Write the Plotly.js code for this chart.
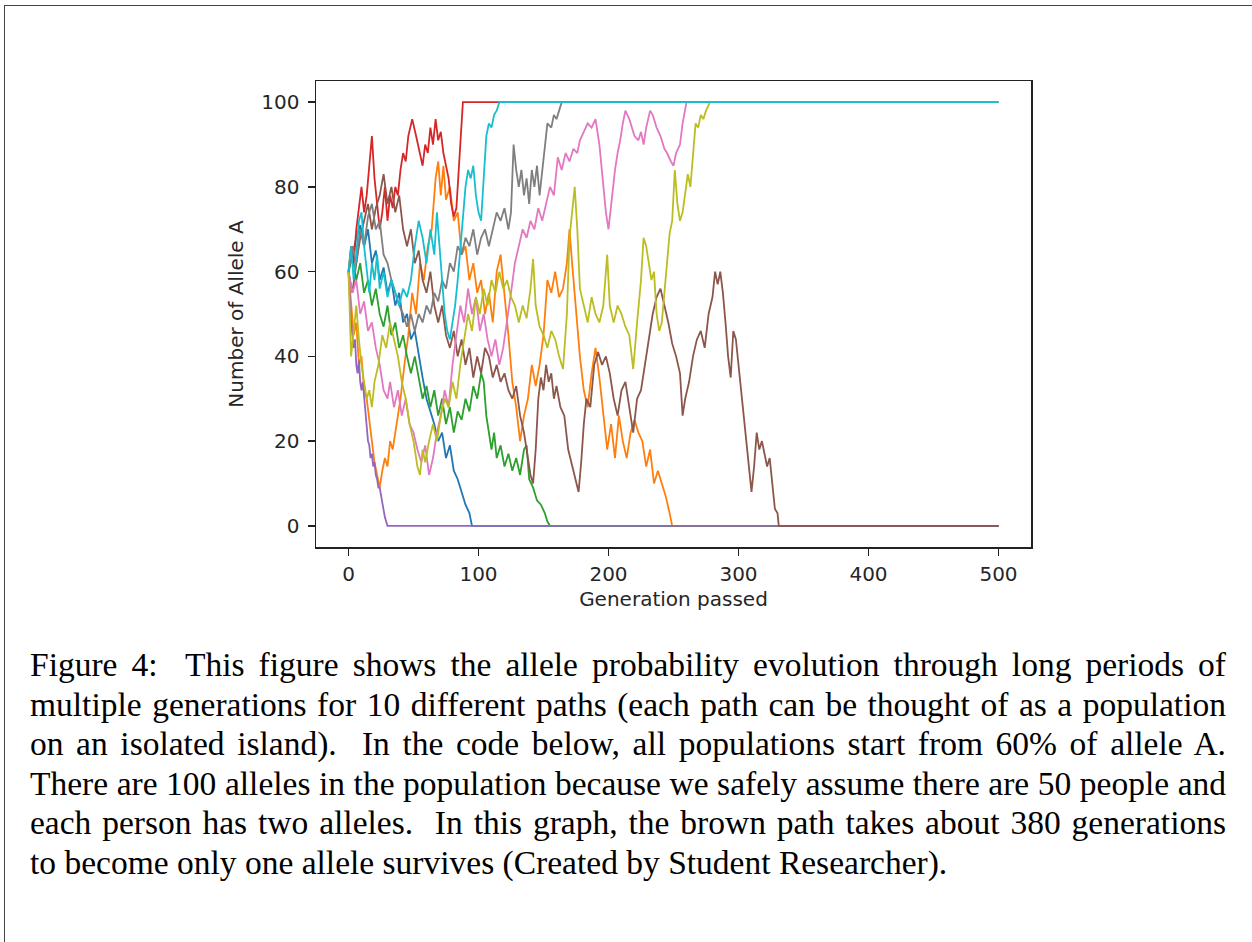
<!DOCTYPE html>
<html>
<head>
<meta charset="utf-8">
<script src="https://cdn.plot.ly/plotly-3.0.1.min.js"></script>
<style>
  html, body { margin: 0; padding: 0; background: #fff; }
  body { width: 1252px; height: 942px; position: relative; overflow: hidden; }
  #frame { position: absolute; left: 4px; top: 5px; width: 1300px; height: 1000px;
           border-top: 1px solid #444; border-left: 1px solid #444; }
  #chart { position: absolute; left: 0; top: 0; width: 1252px; height: 640px; }
  #caption { position: absolute; left: 30px; top: 645px; width: 1196px;
             font-family: "Liberation Serif", "DejaVu Serif", serif; font-size: 33.5px; color: #000; }
  #caption div { line-height: 39.6px; height: 39.6px; white-space: nowrap; text-align: justify; text-align-last: justify; }
  #caption div.last { text-align-last: left; }
</style>
</head>
<body>
<div id="frame"></div>
<div id="chart"></div>
<div id="caption">
  <div>Figure 4:&nbsp; This figure shows the allele probability evolution through long periods of</div>
  <div>multiple generations for 10 different paths (each path can be thought of as a population</div>
  <div>on an isolated island).&nbsp; In the code below, all populations start from 60% of allele A.</div>
  <div>There are 100 alleles in the population because we safely assume there are 50 people and</div>
  <div>each person has two alleles.&nbsp; In this graph, the brown path takes about 380 generations</div>
  <div class="last">to become only one allele survives (Created by Student Researcher).</div>
</div>
<script>
// Tick labels / axis text
const xTicks = [0, 100, 200, 300, 400, 500];
const yTicks = [0, 20, 40, 60, 80, 100];
const xTitle = "Generation passed";
const yTitle = "Number of Allele A";

// Series colours (matplotlib default cycle order)
const colors = ["#1f77b4", "#ff7f0e", "#2ca02c", "#d62728", "#9467bd",
                "#8c564b", "#e377c2", "#7f7f7f", "#bcbd22", "#17becf"];

// Path 1 (blue)
const genBlue = [0,3,6,9,12,15,18,21,24,27,30,33,36,39,42,45,48,51,54,57,60,63,66,69,72,75,78,81,84,87,90,93,95,500];
const valBlue = [60,64,68,71,66,70,62,65,58,61,55,58,52,55,48,50,44,46,40,35,30,27,24,20,22,16,19,13,11,8,5,3,0,0];

// Path 2 (orange)
const genOrange = [0,2,4,6,8,10,12,14,16,18,20,22,24,26,28,30,32,34,37,40,43,46,49,52,55,58,61,64,67,69,71,73,75,78,81,84,87,90,93,96,99,102,105,108,111,114,117,120,123,126,129,132,135,138,141,144,147,150,153,156,159,162,165,168,170,172,175,178,181,184,187,190,193,196,199,202,205,208,211,214,217,220,223,226,229,232,235,238,241,244,247,249,500];
const valOrange = [60,52,45,48,38,40,32,30,25,20,15,12,9,13,16,14,20,18,24,30,38,45,55,50,62,58,66,70,82,86,78,85,77,80,72,74,64,66,58,62,55,58,50,55,48,60,64,55,45,34,28,20,26,30,38,33,38,45,58,55,60,54,56,62,70,62,50,40,32,28,36,42,35,26,18,24,16,26,20,16,22,25,22,20,14,18,10,13,10,7,3,0,0];

// Path 3 (green)
const genGreen = [0,3,6,9,12,15,18,21,24,27,30,33,36,39,42,45,48,51,54,57,60,63,66,69,72,75,78,81,84,87,90,93,96,99,102,104,106,108,110,112,114,117,120,123,126,129,132,135,137,139,142,145,148,151,153,155,500];
const valGreen = [60,64,58,62,55,58,52,56,50,47,52,45,48,42,45,40,36,40,35,30,33,28,32,26,30,24,28,22,27,25,30,27,33,30,36,34,26,22,18,22,16,19,14,17,13,16,12,18,19,11,9,6,5,3,1,0,0];

// Path 4 (red)
const genRed = [0,2,4,6,8,10,12,14,16,18,20,22,24,26,28,30,32,34,36,38,40,42,44,46,49,52,55,57,59,61,63,65,67,69,71,73,75,77,79,81,83,85,86,88,500];
const valRed = [60,66,62,70,75,80,74,78,85,92,82,76,70,74,80,72,78,75,80,78,84,88,86,92,96,92,88,85,90,88,94,90,96,91,93,88,85,82,76,73,75,86,92,100,100];

// Path 5 (purple)
const genPurple = [0,1,2,3,4,5,6,7,8,9,10,11,12,13,14,15,16,17,18,19,20,21,22,23,24,25,26,27,28,29,30,500];
const valPurple = [60,52,48,45,42,44,38,36,39,34,32,34,30,27,24,20,19,16,17,14,15,12,11,9,9,7,5,4,2,1,0,0];

// Path 6 (brown)
const genBrown = [0,3,6,9,12,15,18,21,24,27,30,33,36,39,42,45,48,51,54,57,60,63,66,69,72,75,78,81,84,87,90,93,96,99,102,105,108,111,114,117,120,123,126,129,132,135,138,140,142,144,146,148,150,152,154,156,158,160,163,166,169,172,175,177,179,181,183,186,189,192,195,198,201,204,207,210,213,216,219,222,225,228,231,234,237,240,243,246,249,252,255,257,259,262,265,268,271,274,277,280,282,284,286,288,290,292,294,296,298,300,302,304,306,308,310,312,314,316,318,320,322,324,326,328,330,331,500];
const valBrown = [60,55,62,68,72,76,70,75,78,83,76,80,74,78,70,66,70,62,65,58,55,60,52,48,52,45,42,46,40,44,38,42,35,40,36,42,40,35,38,34,36,32,30,33,26,22,16,12,10,18,30,35,32,38,34,36,30,33,28,26,18,14,10,8,15,24,30,28,38,41,38,40,36,30,26,32,34,28,22,30,32,38,44,50,54,56,52,48,43,40,36,26,30,34,40,44,46,42,50,54,60,57,60,55,48,40,35,46,44,38,32,26,20,14,8,14,22,18,20,17,14,16,10,4,3,0,0];

// Path 7 (pink)
const genPink = [0,3,6,9,12,15,18,21,24,27,30,32,35,38,41,44,47,50,53,56,59,62,65,68,71,74,77,80,83,86,89,92,95,98,101,104,107,110,113,116,119,122,125,128,131,134,137,140,143,146,149,152,155,158,161,164,167,170,173,176,178,181,184,187,190,193,196,198,200,202,205,207,209,211,213,216,218,220,223,225,227,229,232,234,237,240,243,245,248,250,252,255,257,259,260,500];
const valPink = [60,55,58,50,53,46,48,42,38,32,30,34,28,32,26,30,24,22,18,15,19,12,16,22,26,32,28,38,45,52,48,56,50,54,46,50,44,40,44,38,42,48,55,62,66,70,68,72,70,75,72,76,80,78,87,84,88,86,89,88,91,93,95,94,96,90,80,74,70,76,84,88,91,95,98,96,94,92,91,93,90,94,98,97,94,92,89,88,86,85,88,90,95,98,100,100];

// Path 8 (gray)
const genGray = [0,3,6,9,12,15,18,21,24,27,30,33,36,39,42,45,48,51,54,57,60,63,66,69,72,75,78,81,84,87,90,93,96,99,102,105,108,111,114,117,120,123,125,127,129,131,133,135,137,139,141,143,145,147,149,151,153,156,158,160,162,164,500];
const valGray = [60,66,62,70,66,73,76,70,72,64,62,58,55,52,50,47,50,46,50,48,52,50,55,53,58,56,62,60,66,64,68,66,70,64,68,70,66,70,74,72,75,70,74,90,84,80,84,78,82,76,84,80,85,78,84,90,95,94,97,96,98,100,100];

// Path 9 (olive)
const genOlive = [0,2,4,6,8,10,12,14,16,18,20,23,26,29,32,35,38,41,44,47,50,53,55,57,59,62,65,68,71,74,77,80,83,86,89,92,95,98,101,104,107,110,113,116,119,122,125,128,131,134,137,140,142,144,147,150,153,156,159,162,165,168,170,172,174,176,178,181,184,187,190,193,196,199,201,204,207,210,213,216,219,222,225,227,229,231,233,235,237,239,241,243,245,247,249,251,253,255,257,259,261,263,265,267,269,271,273,275,278,500];
const valOlive = [60,40,46,52,44,38,34,30,32,28,34,38,45,42,48,44,40,34,30,24,20,14,12,18,15,20,24,20,26,30,28,34,30,38,44,50,46,54,50,56,52,58,55,60,56,58,54,52,48,52,49,56,63,52,47,45,42,46,44,40,37,50,68,75,80,70,56,52,48,54,50,48,52,64,52,48,52,50,47,45,37,48,58,68,66,62,58,60,50,46,48,55,62,69,72,84,76,72,74,78,83,80,88,95,94,97,96,98,100,100];

// Path 10 (cyan)
const genCyan = [0,2,4,6,8,10,12,14,16,18,20,22,24,27,30,33,36,39,42,45,48,51,54,57,60,63,66,68,70,72,74,76,78,80,82,84,86,88,90,92,94,96,98,100,102,104,106,108,110,112,114,116,500];
const valCyan = [60,66,58,64,72,74,66,60,55,62,58,64,56,60,54,58,55,52,56,54,58,66,72,68,62,70,64,74,66,58,50,46,44,48,52,58,66,72,80,84,82,85,78,74,72,82,92,95,94,97,98,100,100];

const gens = [genBlue, genOrange, genGreen, genRed, genPurple, genBrown, genPink, genGray, genOlive, genCyan];
const vals = [valBlue, valOrange, valGreen, valRed, valPurple, valBrown, valPink, valGray, valOlive, valCyan];

const traces = gens.map((g, i) => ({
  x: g, y: vals[i], type: "scatter", mode: "lines",
  line: { color: colors[i], width: 1.8 }, hoverinfo: "skip", showlegend: false
}));

const tickFont = { family: "DejaVu Sans", size: 20, color: "#262626" };
const layout = {
  width: 1252, height: 640,
  margin: { l: 316, r: 221, t: 81, b: 93, pad: 0 },
  paper_bgcolor: "rgba(0,0,0,0)", plot_bgcolor: "#fff",
  showlegend: false,
  xaxis: {
    range: [-25, 525], tickvals: xTicks, ticktext: xTicks.map(String),
    showgrid: false, zeroline: false, showline: true, mirror: true,
    linecolor: "#222", linewidth: 1.5, ticks: "outside", ticklen: 7, tickwidth: 1.5, tickcolor: "#222",
    tickfont: tickFont, ticklabelstandoff: 1,
    title: { text: xTitle, font: { family: "DejaVu Sans", size: 20, color: "#262626" }, standoff: 7 }
  },
  yaxis: {
    range: [-5, 105], tickvals: yTicks, ticktext: yTicks.map(String),
    showgrid: false, zeroline: false, showline: true, mirror: true,
    linecolor: "#222", linewidth: 1.5, ticks: "outside", ticklen: 7, tickwidth: 1.5, tickcolor: "#222",
    tickfont: tickFont, ticklabelstandoff: 4,
    title: { text: yTitle, font: { family: "DejaVu Sans", size: 20, color: "#262626" }, standoff: 12 }
  }
};

Plotly.newPlot("chart", traces, layout, { staticPlot: true, displayModeBar: false });
</script>
</body>
</html>
